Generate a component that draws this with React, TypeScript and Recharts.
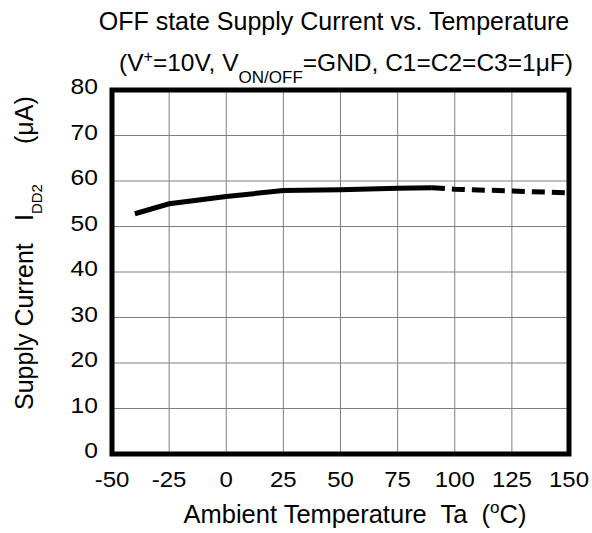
import React from 'react';
import { LineChart, Line, XAxis, YAxis, CartesianGrid, ReferenceArea, Label } from 'recharts';

// ambient temperature Ta (°C)
const temps = [-40, -25, 0, 25, 50, 75, 90, 100, 125, 150];
// measured range (solid)
const measured = [52.8, 55.0, 56.6, 57.9, 58.1, 58.4, 58.5, null, null, null];
// extrapolated range (dashed)
const extrapolated = [null, null, null, null, null, null, 58.5, 58.2, 57.8, 57.4];

const xTicks = [-50, -25, 0, 25, 50, 75, 100, 125, 150];
const yTicks = [0, 10, 20, 30, 40, 50, 60, 70, 80];

const data = temps.map((t, i) => ({ t, measured: measured[i], extrapolated: extrapolated[i] }));

const FONT = '"Liberation Sans", Arial, sans-serif';

const XTick = ({ x, y, payload }: any) => (
  <text
    transform={`translate(${x},${y + 33}) scale(1.09,1)`}
    textAnchor="middle"
    fontFamily={FONT}
    fontSize={22}
    fill="#000"
  >
    {payload.value}
  </text>
);

const YTick = ({ x, y, payload }: any) => (
  <text
    transform={`translate(${x},${y + 4}) scale(1.12,1)`}
    textAnchor="end"
    fontFamily={FONT}
    fontSize={22}
    fill="#000"
  >
    {payload.value}
  </text>
);

const XLabel = () => (
  <text x={355} y={523} textAnchor="middle" fontFamily={FONT} fontSize={25.5} fill="#000" style={{ whiteSpace: 'pre' }}>
    {'Ambient Temperature  Ta  ('}
    <tspan dy={-10} fontSize={17}>o</tspan>
    <tspan dy={10}>C)</tspan>
  </text>
);

const YLabel = () => (
  <text transform="translate(33,0) rotate(-90)" fontFamily={FONT} fontSize={25} fill="#000">
    <tspan x={-410} y={0}>Supply Current</tspan>
    <tspan x={-221}>I</tspan>
    <tspan dy={9} fontSize={15}>DD2</tspan>
    <tspan x={-144} dy={-9}>(μA)</tspan>
  </text>
);

export default function App() {
  return (
    <div style={{ position: 'absolute', left: 0, top: 0 }}>
      <LineChart
        width={592}
        height={533}
        data={data}
        margin={{ top: 90, right: 23, bottom: 0, left: 52 }}
        style={{ fontFamily: FONT }}
      >
        <text x={334} y={30} textAnchor="middle" fontFamily={FONT} fontSize={25} fill="#000">
          OFF state Supply Current vs. Temperature
        </text>
        <text x={346} y={71} textAnchor="middle" fontFamily={FONT} fontSize={24.5} fill="#000">
          {'(V'}
          <tspan dy={-9} fontSize={16}>+</tspan>
          <tspan dy={9}>{'=10V, V'}</tspan>
          <tspan dy={12} fontSize={17}>ON/OFF</tspan>
          <tspan dy={-12}>{'=GND, C1=C2=C3=1μF)'}</tspan>
        </text>
        <CartesianGrid stroke="#808080" strokeWidth={1} />
        <XAxis
          dataKey="t"
          type="number"
          domain={[-50, 150]}
          ticks={xTicks}
          height={79}
          axisLine={false}
          tickLine={false}
          tickSize={0}
          tickMargin={0}
          tick={<XTick />}
          interval={0}
        >
          <Label content={<XLabel />} />
        </XAxis>
        <YAxis
          type="number"
          domain={[0, 80]}
          ticks={yTicks}
          width={60}
          axisLine={false}
          tickLine={false}
          tickSize={0}
          tickMargin={14}
          tick={<YTick />}
          interval={0}
        >
          <Label content={<YLabel />} />
        </YAxis>
        <Line
          dataKey="measured"
          stroke="#000"
          strokeWidth={5}
          dot={false}
          activeDot={false}
          isAnimationActive={false}
          type="linear"
        />
        <Line
          dataKey="extrapolated"
          stroke="#000"
          strokeWidth={5}
          strokeDasharray="13 7"
          dot={false}
          activeDot={false}
          isAnimationActive={false}
          type="linear"
        />
        <ReferenceArea x1={-50} x2={150} y1={0} y2={80} fill="none" stroke="#000" strokeWidth={5} ifOverflow="visible" />
      </LineChart>
    </div>
  );
}
